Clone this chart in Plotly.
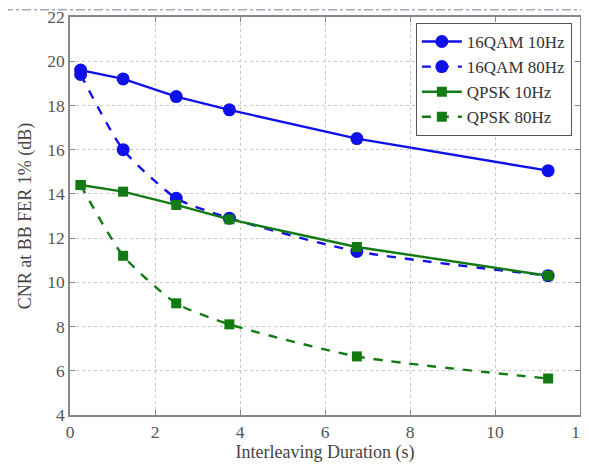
import plotly.graph_objects as go

x_vals = [0.25, 1.25, 2.5, 3.75, 6.75, 11.25]
qam16_10hz = [19.6, 19.2, 18.4, 17.8, 16.5, 15.05]
qam16_80hz = [19.4, 16.0, 13.8, 12.9, 11.4, 10.3]
qpsk_10hz = [14.4, 14.1, 13.5, 12.85, 11.6, 10.3]
qpsk_80hz = [14.4, 11.2, 9.05, 8.1, 6.65, 5.65]
series_names = ["16QAM 10Hz", "16QAM 80Hz", "QPSK 10Hz", "QPSK 80Hz"]
x_ticks = [0, 2, 4, 6, 8, 10, 12]
y_ticks = [4, 6, 8, 10, 12, 14, 16, 18, 20, 22]

BLUE = "#1010e8"
GREEN = "#127a12"
FONT = "Liberation Serif"

fig = go.Figure()
specs = [
    (qam16_10hz, series_names[0], BLUE, "solid", "circle", 13, "linear"),
    (qam16_80hz, series_names[1], BLUE, "dash", "circle", 13, "spline"),
    (qpsk_10hz, series_names[2], GREEN, "solid", "square", 10, "linear"),
    (qpsk_80hz, series_names[3], GREEN, "dash", "square", 10, "spline"),
]
for ys, name, col, dash, sym, ms, shape in specs:
    fig.add_trace(go.Scatter(
        x=x_vals, y=ys, name=name, mode="lines+markers",
        line=dict(color=col, width=2.4, dash=dash, shape=shape, smoothing=0.6),
        marker=dict(symbol=sym, size=ms, color=col),
    ))

axis_common = dict(
    showgrid=True, gridcolor="#c8c8c8", griddash="dot", gridwidth=1,
    showline=True, linecolor="#888888", linewidth=1.5, mirror="ticks",
    ticks="inside", ticklen=5, tickcolor="#888888", zeroline=False,
    automargin=False, ticklabeloverflow="allow",
    tickfont=dict(family=FONT, size=17.5, color="#555555"),
)
fig.update_xaxes(range=[0, 12], tickvals=x_ticks,
                 title=dict(text="Interleaving Duration (s)", standoff=2,
                            font=dict(family=FONT, size=18, color="#444444")),
                 **axis_common)
fig.update_yaxes(range=[4, 22], tickvals=y_ticks,
                 title=dict(text="CNR at BB FER 1% (dB)", standoff=11,
                            font=dict(family=FONT, size=18, color="#444444")),
                 **axis_common)

fig.update_layout(
    width=581, height=461,
    margin=dict(l=62, r=9, t=9, b=54),
    paper_bgcolor="white", plot_bgcolor="white",
    showlegend=True,
    legend=dict(x=0.984, y=0.985, xanchor="right", yanchor="top",
                bgcolor="white", bordercolor="#555555", borderwidth=1,
                font=dict(family=FONT, size=17, color="#333333"),
                tracegroupgap=0, itemwidth=40),
    shapes=[dict(type="line", xref="paper", yref="paper", x0=-0.2, x1=1.1,
                 y0=1.018, y1=1.018, line=dict(color="#7080a0", width=1, dash="dashdot"))],
)

fig.write_html("out.html")
